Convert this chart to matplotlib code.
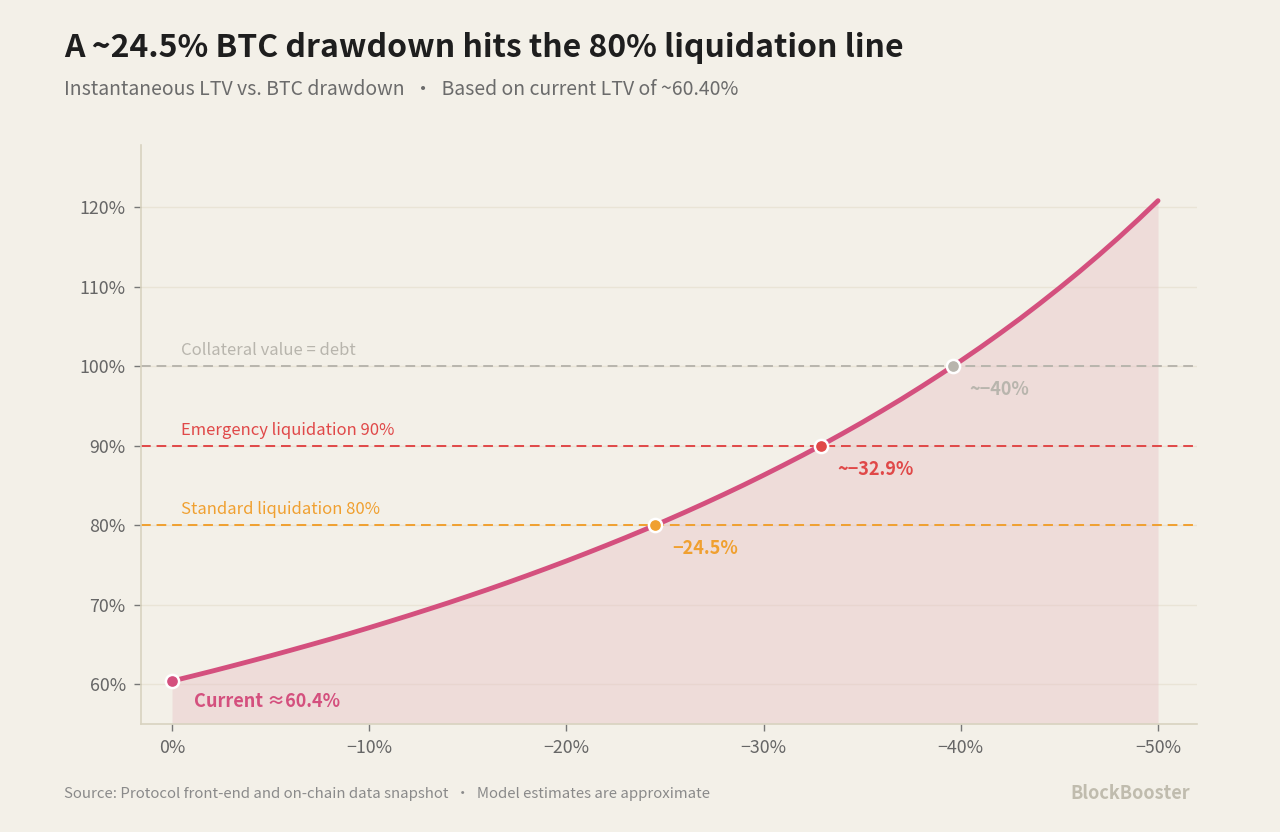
import matplotlib.pyplot as plt
from matplotlib.ticker import FixedLocator

plt.rcParams['font.family'] = ['Noto Sans CJK SC', 'DejaVu Sans']

# drawdown in percent (positive = price drop) and resulting LTV in percent
drawdown = list(range(0, 51))
ltv = [60.40, 61.01, 61.63, 62.27, 62.92, 63.58, 64.26, 64.95, 65.65, 66.37,
       67.11, 67.87, 68.64, 69.43, 70.23, 71.06, 71.90, 72.77, 73.66, 74.57,
       75.50, 76.46, 77.44, 78.44, 79.47, 80.53, 81.62, 82.74, 83.89, 85.07,
       86.29, 87.54, 88.82, 90.15, 91.52, 92.92, 94.38, 95.87, 97.42, 99.02,
       100.67, 102.37, 104.14, 105.96, 107.86, 109.82, 111.85, 113.96, 116.15, 118.43,
       120.80]

thresholds = [100, 90, 80]
threshold_labels = ['Collateral value = debt', 'Emergency liquidation 90%', 'Standard liquidation 80%']

key_x = [0, 24.5, 32.9, 39.6]
key_y = [60.4, 80, 90, 100]
key_labels = ['Current \u224860.4%', '\u221224.5%', '~\u221232.9%', '~\u221240%']

x_ticks = [0, 10, 20, 30, 40, 50]
y_ticks = [60, 70, 80, 90, 100, 110, 120]

bg = '#f3f0e8'
pink = '#d4507e'
red = '#e04848'
orange = '#f0a030'
gray = '#b8b5ad'
line_colors = [gray, red, orange]
key_colors = [pink, orange, red, gray]

fig = plt.figure(figsize=(12.8, 8.32), dpi=100, facecolor=bg)
ax = fig.add_axes([0.1102, 0.1298, 0.825, 0.6959])
ax.set_facecolor(bg)

ax.set_xlim(-1.57, 51.98)
ax.set_ylim(55, 127.8)

for y in y_ticks:
    ax.axhline(y, color='#e9e4d6', lw=1, zorder=0)

ax.fill_between(drawdown, ltv, 55, color='#e8c4c8', alpha=0.45, lw=0, zorder=1)

for y, lab, c in zip(thresholds, threshold_labels, line_colors):
    ax.axhline(y, color=c, lw=1.4, ls=(0, (5, 3)), zorder=2)
    ax.annotate(lab, (0.46, y), xytext=(0, 5), textcoords='offset points',
                color=c, fontsize=12, ha='left', va='bottom')

ax.plot(drawdown, ltv, color=pink, lw=3.5, solid_capstyle='round', zorder=3)

offsets = [(16, -15), (12, -17), (12, -17), (12, -17)]
for x, y, lab, c, off in zip(key_x, key_y, key_labels, key_colors, offsets):
    ax.plot(x, y, 'o', ms=9.5, color=c, mec='white', mew=1.8, zorder=4)
    ax.annotate(lab, (x, y), xytext=off, textcoords='offset points',
                color=c, fontsize=13, fontweight='bold', ha='left', va='center')

ax.xaxis.set_major_locator(FixedLocator(x_ticks))
ax.set_xticklabels(['0%'] + ['\u2212%d%%' % t for t in x_ticks[1:]])
ax.yaxis.set_major_locator(FixedLocator(y_ticks))
ax.set_yticklabels(['%d%%' % t for t in y_ticks])
ax.tick_params(axis='both', colors='#666666', labelsize=12.8, length=5, width=1, pad=6)
ax.tick_params(axis='both', color='#777777')

for s in ['top', 'right']:
    ax.spines[s].set_visible(False)
for s in ['left', 'bottom']:
    ax.spines[s].set_color('#d8d3c0')
    ax.spines[s].set_linewidth(1.2)

fig.text(0.05, 0.942, 'A ~24.5% BTC drawdown hits the 80% liquidation line',
         fontsize=23, fontweight='bold', color='#1e1e1e', ha='left', va='center')
fig.text(0.05, 0.892, 'Instantaneous LTV vs. BTC drawdown  \u2022  Based on current LTV of ~60.40%',
         fontsize=14, color='#6b6b6b', ha='left', va='center')
fig.text(0.05, 0.046, 'Source: Protocol front-end and on-chain data snapshot  \u2022  Model estimates are approximate',
         fontsize=10.8, color='#8a8a8a', ha='left', va='center')
fig.text(0.93, 0.046, 'BlockBooster', fontsize=13, fontweight='bold', color='#c0bcae',
         ha='right', va='center')

fig.savefig('out.png', dpi=100, facecolor=bg)
